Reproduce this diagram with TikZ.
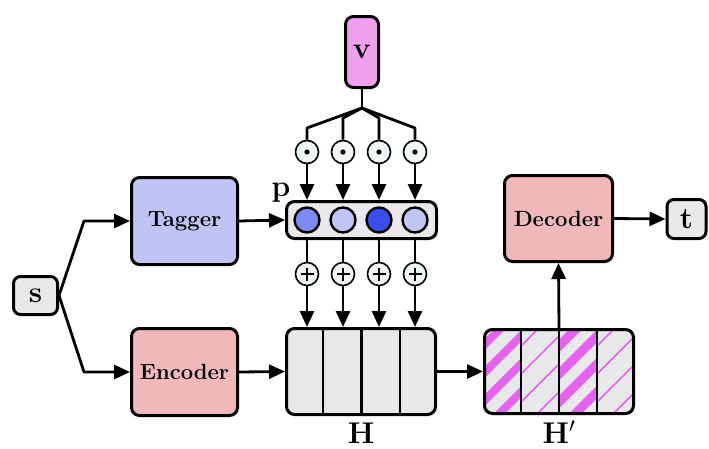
\RequirePackage{fix-cm}
\documentclass[tikz,border=0pt]{standalone}
\usetikzlibrary{arrows.meta}
\definecolor{grayfill}{RGB}{232,232,234}
\definecolor{taggerfill}{RGB}{192,196,245}
\definecolor{redfill}{RGB}{240,184,184}
\definecolor{vfill}{RGB}{238,160,238}
\definecolor{opfill}{RGB}{238,246,246}
\definecolor{pmid}{RGB}{125,139,240}
\definecolor{plight}{RGB}{192,197,245}
\definecolor{pdark}{RGB}{58,78,240}
\definecolor{stripe}{RGB}{228,100,240}
\begin{document}
\begin{tikzpicture}[x=1pt,y=-1pt,line join=round,
  box/.style={draw, line width=3pt, rounded corners=8pt, inner sep=0pt,
              font=\fontsize{22}{26}\selectfont\bfseries},
  sym/.style={font=\fontsize{30}{32}\selectfont, inner sep=0pt},
  conn/.style={line width=2.8pt},
  arr/.style={conn,-{Triangle[length=16pt,width=14pt]}},
  op/.style={circle, draw, line width=1.6pt, fill=opfill, minimum size=23pt, inner sep=0pt},
  dotop/.style={op, path picture={\fill[black] (path picture bounding box.center) circle (2.6pt);}},
  plusop/.style={op, path picture={\draw[black, line width=1.9pt]
      ([xshift=-6.5pt]path picture bounding box.center) -- ([xshift=6.5pt]path picture bounding box.center)
      ([yshift=-6.5pt]path picture bounding box.center) -- ([yshift=6.5pt]path picture bounding box.center);}},
  pc/.style={circle, draw, line width=2.4pt, minimum size=25pt, inner sep=0pt}]
\useasboundingbox (0,0) rectangle (709,448);

% nodes
\node[box, fill=grayfill, rounded corners=7pt, minimum width=44pt, minimum height=38pt, font=\fontsize{30}{32}\selectfont] (s) at (35.5,295.5) {$\mathbf{s}$};
\node[box, fill=taggerfill, minimum width=106pt, minimum height=87pt] (tagger) at (184.5,221) {Tagger};
\node[box, fill=redfill, minimum width=106pt, minimum height=87pt] (encoder) at (184.5,372) {Encoder};
\node[box, fill=vfill, minimum width=33pt, minimum height=71pt, font=\fontsize{30}{32}\selectfont] (v) at (362,52) {$\mathbf{v}$};
\node[box, fill=grayfill, minimum width=150pt, minimum height=37pt] (bar) at (361.5,220) {};
\node[pc, fill=pmid] (c1) at (307,220) {};
\node[pc, fill=plight] (c2) at (343,220) {};
\node[pc, fill=pdark] (c3) at (379,220) {};
\node[pc, fill=plight] (c4) at (415,220) {};
\node[sym, anchor=base] (plabel) at (281,196) {$\mathbf{p}$};

\node[box, fill=grayfill, minimum width=149pt, minimum height=86pt] (H) at (361,371.5) {};
\draw[line width=2.8pt] (323,328) -- (323,415) (361.5,328) -- (361.5,415) (400,328) -- (400,415);
\node[sym, anchor=base] (Hlabel) at (361,443) {$\mathbf{H}$};

% H' with hatching
\begin{scope}
  \clip[rounded corners=8pt] (483,328) rectangle (635,415);
  \fill[grayfill] (483,328) rectangle (635,415);
  \foreach \xa/\xb/\w in {483/521/8pt, 521/559/1.6pt, 559/597/9pt, 597/635/1.6pt}{
    \begin{scope}
      \clip (\xa,328) rectangle (\xb,415);
      \foreach \k in {-1,...,6}{
        \draw[stripe, line width=\w] (\xa-20,318+\k*28+20) -- ++(90,-90);
      }
    \end{scope}
  }
\end{scope}
\node[box, minimum width=149pt, minimum height=84pt] (Hp) at (559,371.5) {};
\draw[line width=2.8pt] (521,328) -- (521,415) (559,328) -- (559,415) (597,328) -- (597,415);
\node[sym, anchor=base] (Hplabel) at (559,443) {$\mathbf{H}'$};

\node[box, fill=redfill, minimum width=108pt, minimum height=86pt] (decoder) at (558.5,218.5) {Decoder};
\node[box, fill=grayfill, rounded corners=7pt, minimum width=39pt, minimum height=39pt, font=\fontsize{30}{32}\selectfont] (t) at (686.5,219) {$\mathbf{t}$};

% operators
\node[dotop] (m1) at (307,152) {};
\node[dotop] (m2) at (343,152) {};
\node[dotop] (m3) at (379,152) {};
\node[dotop] (m4) at (415,152) {};
\node[plusop] (a1) at (307,274) {};
\node[plusop] (a2) at (343,274) {};
\node[plusop] (a3) at (379,274) {};
\node[plusop] (a4) at (415,274) {};

% coordinates
\coordinate (jn) at (362,108);
\coordinate (b1) at (307,128);
\coordinate (b2) at (343,118);
\coordinate (b3) at (379,118);
\coordinate (b4) at (415,128);
\coordinate (ks1) at (84,221);
\coordinate (ks2) at (84,372);

% connectors
\draw[arr] (s.east) -- (ks1) -- (tagger.west);
\draw[arr] (s.east) -- (ks2) -- (encoder.west);
\draw[arr] (tagger.east) -- (bar.west);
\draw[arr] (encoder.east) -- (H.west);
\draw[conn] (v.south) -- (jn);
\draw[conn] (jn) -- (b1) -- (m1);
\draw[conn] (jn) -- (b2) -- (m2);
\draw[conn] (jn) -- (b3) -- (m3);
\draw[conn] (jn) -- (b4) -- (m4);
\foreach \i in {1,...,4}{
  \draw[arr] (m\i) -- (m\i |- bar.north);
  \draw[conn] (c\i |- bar.south) -- (a\i);
  \draw[arr] (a\i) -- (a\i |- H.north);
}
\draw[arr] (H.east) -- (Hp.west);
\draw[arr] (Hp.north) -- (decoder.south);
\draw[arr] (decoder.east) -- (t.west);
\end{tikzpicture}
\end{document}
